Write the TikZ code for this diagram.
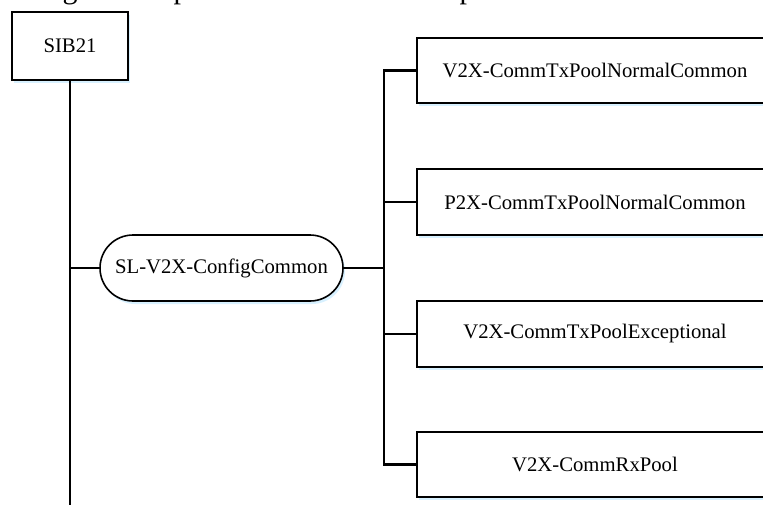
\documentclass[tikz,border=0pt]{standalone}
\usepackage{fontspec}
\setmainfont{Liberation Serif}
\usetikzlibrary{shadows}

\tikzset{
  softshadow/.style={drop shadow={shadow xshift=2pt, shadow yshift=-3pt,
      fill=blue!35!cyan!25!white, opacity=0.6}},
  fieldbox/.style={draw, line width=1.6pt, fill=white, inner sep=0pt,
      font=\fontsize{20.7}{24}\selectfont, softshadow},
  ovalbox/.style={fieldbox, rounded corners=33pt},
  link/.style={line width=2.2pt},
  frag/.style={font=\fontsize{30}{34}\selectfont, inner sep=0pt, anchor=base}
}

\begin{document}
\begin{tikzpicture}[x=1pt, y=-1pt]
  \clip (0,0) rectangle (763,504);
  \fill[white] (0,0) rectangle (763,504);

  % descenders of the line of text above the figure
  \node[frag] (fg) at (70,-1.5) {g};
  \node[frag] (fp1) at (181,-1.5) {p};
  \node[frag] (fp2) at (467,-1.5) {p};

  % root block
  \node[fieldbox, minimum width=116pt, minimum height=68pt] (sib) at (70,46) {SIB21};
  \coordinate (rootend) at (70,510);

  % common configuration
  \node[ovalbox, minimum width=243pt, minimum height=66pt] (cfg) at (221.5,268) {SL-V2X-ConfigCommon};

  % pool blocks (running past the right edge)
  \node[fieldbox, minimum width=356pt, minimum height=65pt] (p1) at (595,70.5) {V2X-CommTxPoolNormalCommon};
  \node[fieldbox, minimum width=356pt, minimum height=66pt] (p2) at (595,202) {P2X-CommTxPoolNormalCommon};
  \node[fieldbox, minimum width=356pt, minimum height=66pt] (p3) at (595,334) {V2X-CommTxPoolExceptional};
  \node[fieldbox, minimum width=356pt, minimum height=65pt] (p4) at (595,464.5) {V2X-CommRxPool};

  \coordinate (bus) at (384,268);

  % trunk from the root
  \draw[link] (sib.south) -- (rootend);
  \draw[link] (sib.south |- cfg.west) -- (cfg.west);

  % branches to the pools
  \draw[link] (cfg.east) -- (bus);
  \draw[link] (p1.west) -| (bus) |- (p4.west);
  \foreach \p in {p2,p3}
    \draw[link] (bus |- \p.west) -- (\p.west);
\end{tikzpicture}
\end{document}
